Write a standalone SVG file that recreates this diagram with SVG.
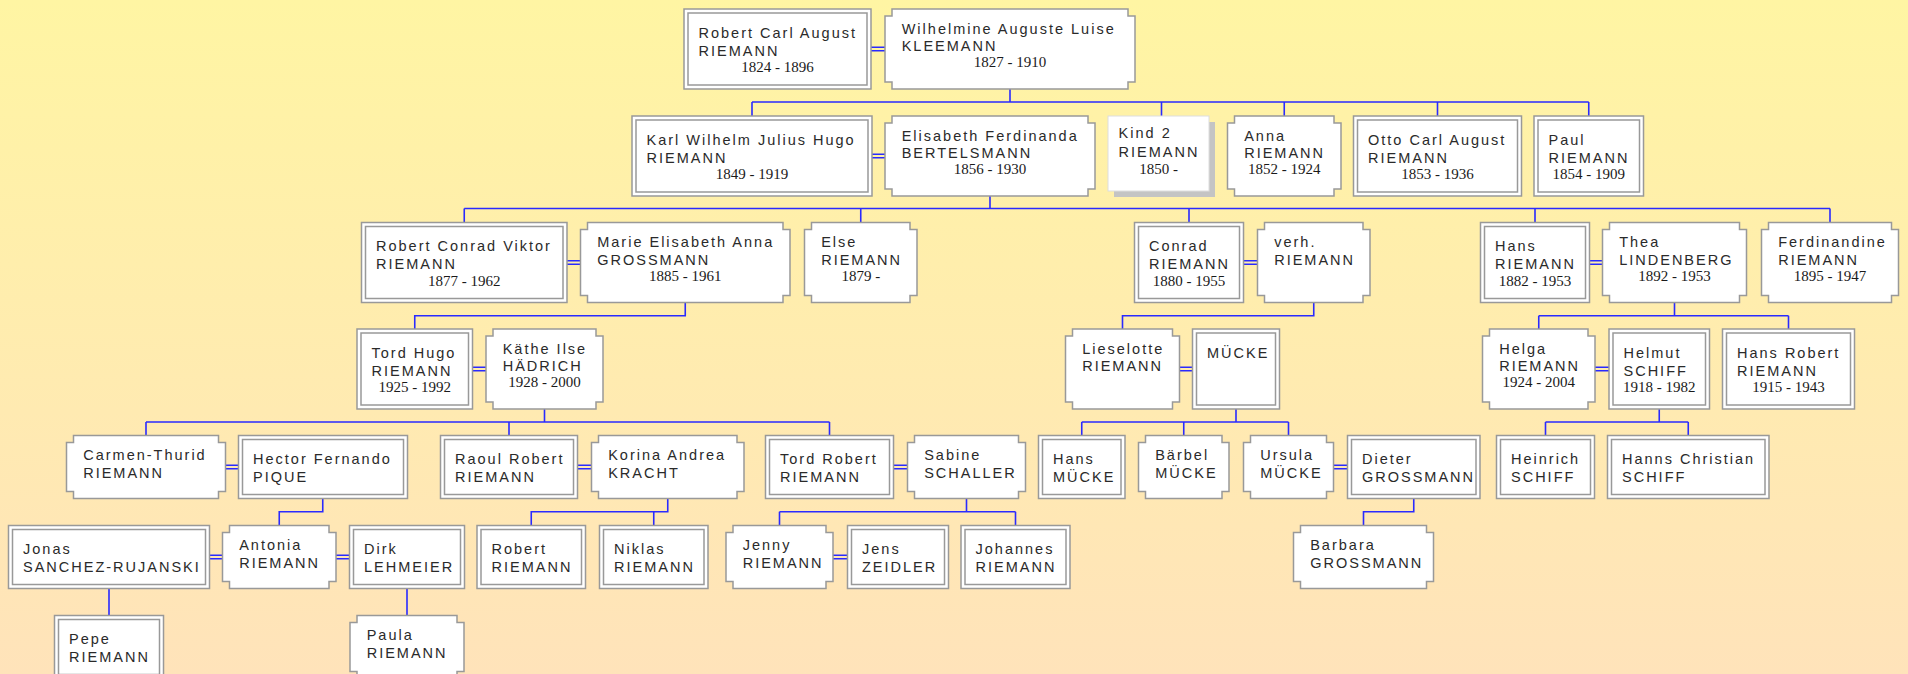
<svg xmlns="http://www.w3.org/2000/svg" width="1908" height="674" viewBox="0 0 1908 674">
<defs>
<linearGradient id="bg" x1="0" y1="0" x2="0" y2="1">
<stop offset="0" stop-color="#FFF5A3"/>
<stop offset="1" stop-color="#FFE3BA"/>
</linearGradient>
</defs>
<style>
.m rect{fill:#fff;stroke:#999;stroke-width:1.5}
.m rect.in{fill:none}
.f path{fill:#fff;stroke:#999;stroke-width:1.5}
.u rect{fill:#fff;stroke:#ddd;stroke-width:1}
.u rect.sh{fill:#c4c4c4;stroke:none}
.n{font-family:"Liberation Sans",Arial,sans-serif;font-size:14.5px;letter-spacing:2px;fill:#2a2a2a}
.d{font-family:"Liberation Serif","Times New Roman",serif;font-size:15px;fill:#1a1a1a;text-anchor:middle}
#connectors path{fill:none;stroke:#2a2aff;stroke-width:1.6}
</style>
<rect width="1908" height="674" fill="url(#bg)"/>
<g id="connectors">
<path d="M871,47.25H885M871,50.75H885"/>
<path d="M872,154.25H885M872,157.75H885"/>
<path d="M567,260.75H580.5M567,264.25H580.5"/>
<path d="M1243.5,260.75H1257.5M1243.5,264.25H1257.5"/>
<path d="M1589.5,260.75H1602.5M1589.5,264.25H1602.5"/>
<path d="M472.5,367.25H486M472.5,370.75H486"/>
<path d="M1179.5,367.25H1192.5M1179.5,370.75H1192.5"/>
<path d="M1595,367.25H1609M1595,370.75H1609"/>
<path d="M225.5,465.25H238.5M225.5,468.75H238.5"/>
<path d="M577.5,465.25H591.5M577.5,468.75H591.5"/>
<path d="M893.5,465.25H907.5M893.5,468.75H907.5"/>
<path d="M1333.5,465.25H1347.5M1333.5,468.75H1347.5"/>
<path d="M209.5,555.25H222.5M209.5,558.75H222.5"/>
<path d="M336,555.25H349.5M336,558.75H349.5"/>
<path d="M833,555.25H847.5M833,558.75H847.5"/>
<path d="M1010,89V102M752,102H1588.75M752,102V116M1161.5,102V116M1284.25,102V116M1437.5,102V116M1588.75,102V116"/>
<path d="M990,196V208.5M464.25,208.5H1830M464.25,208.5V222.5M860.75,208.5V222.5M1189,208.5V222.5M1535,208.5V222.5M1830,208.5V222.5"/>
<path d="M685.25,302.5V315.7H414.75V329M1313.75,302.5V315.7H1122.5V329M1674.5,302.5V315.7M1538.75,315.7H1788.5M1538.75,315.7V329M1788.5,315.7V329"/>
<path d="M544.5,409V422M146,422H829.5M146,422V435.5M509,422V435.5M829.5,422V435.5"/>
<path d="M1236,409V422M1081.75,422H1288.5M1081.75,422V435.5M1183.75,422V435.5M1288.5,422V435.5"/>
<path d="M1659.25,409V422M1545.5,422H1688.25M1545.5,422V435.5M1688.25,422V435.5"/>
<path d="M322.75,498.5V511.7H279.25V525.5M667.75,498.5V511.7H531.25V525.5M653.75,511.7V525.5M966.5,498.5V511.7M779.5,511.7H1015.5M779.5,511.7V525.5M1015.5,511.7V525.5M1413.75,498.5V511.7H1363.5V525.5"/>
<path d="M109,588.5V615.5M407,588.5V615.5"/>
</g>

<g id="robert-carl-august" class="m"><rect x="684" y="9" width="187" height="80"/><rect class="in" x="688" y="13" width="179" height="72"/><text class="n" x="698.5" y="37.7">Robert Carl August</text><text class="n" x="698.5" y="55.5">RIEMANN</text><text class="d" x="777.5" y="72">1824 - 1896</text></g>
<g id="wilhelmine" class="f"><path d="M892,9H1128V16H1135V82H1128V89H892V82H885V16H892Z"/><text class="n" x="901.7" y="33.5">Wilhelmine Auguste Luise</text><text class="n" x="901.7" y="51.3">KLEEMANN</text><text class="d" x="1010" y="67.3">1827 - 1910</text></g>

<g id="karl" class="m"><rect x="632" y="116" width="240" height="80"/><rect class="in" x="636" y="120" width="232" height="72"/><text class="n" x="646.5" y="144.7">Karl Wilhelm Julius Hugo</text><text class="n" x="646.5" y="162.5">RIEMANN</text><text class="d" x="752" y="179">1849 - 1919</text></g>
<g id="elisabeth" class="f"><path d="M892,116H1088V123H1095V189H1088V196H892V189H885V123H892Z"/><text class="n" x="901.7" y="140.5">Elisabeth Ferdinanda</text><text class="n" x="901.7" y="158.3">BERTELSMANN</text><text class="d" x="990" y="174.3">1856 - 1930</text></g>
<g id="kind2" class="u"><rect class="sh" x="1114" y="122" width="101" height="75"/><rect x="1108" y="116" width="101" height="75"/><text class="n" x="1118.6" y="137.7">Kind 2</text><text class="n" x="1118.6" y="156.7">RIEMANN</text><text class="d" x="1158.5" y="174">1850 -</text></g>
<g id="anna" class="f"><path d="M1234.5,116H1334V123H1341V189H1334V196H1234.5V189H1227.5V123H1234.5Z"/><text class="n" x="1244.2" y="140.5">Anna</text><text class="n" x="1244.2" y="158.3">RIEMANN</text><text class="d" x="1284.25" y="174.3">1852 - 1924</text></g>
<g id="otto" class="m"><rect x="1353.5" y="116" width="168" height="80"/><rect class="in" x="1357.5" y="120" width="160" height="72"/><text class="n" x="1368" y="144.7">Otto Carl August</text><text class="n" x="1368" y="162.5">RIEMANN</text><text class="d" x="1437.5" y="179">1853 - 1936</text></g>
<g id="paul" class="m"><rect x="1534" y="116" width="109.5" height="80"/><rect class="in" x="1538" y="120" width="101.5" height="72"/><text class="n" x="1548.5" y="144.7">Paul</text><text class="n" x="1548.5" y="162.5">RIEMANN</text><text class="d" x="1588.75" y="179">1854 - 1909</text></g>

<g id="robert-conrad" class="m"><rect x="361.5" y="222.5" width="205.5" height="80"/><rect class="in" x="365.5" y="226.5" width="197.5" height="72"/><text class="n" x="376" y="251.2">Robert Conrad Viktor</text><text class="n" x="376" y="269">RIEMANN</text><text class="d" x="464.25" y="285.5">1877 - 1962</text></g>
<g id="marie" class="f"><path d="M587.5,222.5H783V229.5H790V295.5H783V302.5H587.5V295.5H580.5V229.5H587.5Z"/><text class="n" x="597.2" y="247">Marie Elisabeth Anna</text><text class="n" x="597.2" y="264.8">GROSSMANN</text><text class="d" x="685.25" y="280.8">1885 - 1961</text></g>
<g id="else" class="f"><path d="M811.5,222.5H910V229.5H917V295.5H910V302.5H811.5V295.5H804.5V229.5H811.5Z"/><text class="n" x="821.2" y="247">Else</text><text class="n" x="821.2" y="264.8">RIEMANN</text><text class="d" x="860.75" y="280.8">1879 -</text></g>
<g id="conrad" class="m"><rect x="1134.5" y="222.5" width="109" height="80"/><rect class="in" x="1138.5" y="226.5" width="101" height="72"/><text class="n" x="1149" y="251.2">Conrad</text><text class="n" x="1149" y="269">RIEMANN</text><text class="d" x="1189" y="285.5">1880 - 1955</text></g>
<g id="verh" class="f"><path d="M1264.5,222.5H1363V229.5H1370V295.5H1363V302.5H1264.5V295.5H1257.5V229.5H1264.5Z"/><text class="n" x="1274.2" y="247">verh.</text><text class="n" x="1274.2" y="264.8">RIEMANN</text></g>
<g id="hans" class="m"><rect x="1480.5" y="222.5" width="109" height="80"/><rect class="in" x="1484.5" y="226.5" width="101" height="72"/><text class="n" x="1495" y="251.2">Hans</text><text class="n" x="1495" y="269">RIEMANN</text><text class="d" x="1535" y="285.5">1882 - 1953</text></g>
<g id="thea" class="f"><path d="M1609.5,222.5H1739.5V229.5H1746.5V295.5H1739.5V302.5H1609.5V295.5H1602.5V229.5H1609.5Z"/><text class="n" x="1619.2" y="247">Thea</text><text class="n" x="1619.2" y="264.8">LINDENBERG</text><text class="d" x="1674.5" y="280.8">1892 - 1953</text></g>
<g id="ferdinandine" class="f"><path d="M1768.5,222.5H1891.5V229.5H1898.5V295.5H1891.5V302.5H1768.5V295.5H1761.5V229.5H1768.5Z"/><text class="n" x="1778.2" y="247">Ferdinandine</text><text class="n" x="1778.2" y="264.8">RIEMANN</text><text class="d" x="1830" y="280.8">1895 - 1947</text></g>

<g id="tord-hugo" class="m"><rect x="357" y="329" width="115.5" height="80"/><rect class="in" x="361" y="333" width="107.5" height="72"/><text class="n" x="371.5" y="357.7">Tord Hugo</text><text class="n" x="371.5" y="375.5">RIEMANN</text><text class="d" x="414.75" y="392">1925 - 1992</text></g>
<g id="kaethe" class="f"><path d="M493,329H596V336H603V402H596V409H493V402H486V336H493Z"/><text class="n" x="502.7" y="353.5">Käthe Ilse</text><text class="n" x="502.7" y="371.3">HÄDRICH</text><text class="d" x="544.5" y="387.3">1928 - 2000</text></g>
<g id="lieselotte" class="f"><path d="M1072.5,329H1172.5V336H1179.5V402H1172.5V409H1072.5V402H1065.5V336H1072.5Z"/><text class="n" x="1082.2" y="353.5">Lieselotte</text><text class="n" x="1082.2" y="371.3">RIEMANN</text></g>
<g id="muecke" class="m"><rect x="1192.5" y="329" width="87" height="80"/><rect class="in" x="1196.5" y="333" width="79" height="72"/><text class="n" x="1207" y="357.7">MÜCKE</text></g>
<g id="helga" class="f"><path d="M1489.5,329H1588V336H1595V402H1588V409H1489.5V402H1482.5V336H1489.5Z"/><text class="n" x="1499.2" y="353.5">Helga</text><text class="n" x="1499.2" y="371.3">RIEMANN</text><text class="d" x="1538.75" y="387.3">1924 - 2004</text></g>
<g id="helmut" class="m"><rect x="1609" y="329" width="100.5" height="80"/><rect class="in" x="1613" y="333" width="92.5" height="72"/><text class="n" x="1623.5" y="357.7">Helmut</text><text class="n" x="1623.5" y="375.5">SCHIFF</text><text class="d" x="1659.25" y="392">1918 - 1982</text></g>
<g id="hans-robert" class="m"><rect x="1722.5" y="329" width="132" height="80"/><rect class="in" x="1726.5" y="333" width="124" height="72"/><text class="n" x="1737" y="357.7">Hans Robert</text><text class="n" x="1737" y="375.5">RIEMANN</text><text class="d" x="1788.5" y="392">1915 - 1943</text></g>

<g id="carmen" class="f"><path d="M73.5,435.5H218.5V442.5H225.5V491.5H218.5V498.5H73.5V491.5H66.5V442.5H73.5Z"/><text class="n" x="83.2" y="460">Carmen-Thurid</text><text class="n" x="83.2" y="477.8">RIEMANN</text></g>
<g id="hector" class="m"><rect x="238.5" y="435.5" width="169" height="63"/><rect class="in" x="242.5" y="439.5" width="161" height="55"/><text class="n" x="253" y="464.2">Hector Fernando</text><text class="n" x="253" y="482">PIQUE</text></g>
<g id="raoul" class="m"><rect x="440.5" y="435.5" width="137" height="63"/><rect class="in" x="444.5" y="439.5" width="129" height="55"/><text class="n" x="455" y="464.2">Raoul Robert</text><text class="n" x="455" y="482">RIEMANN</text></g>
<g id="korina" class="f"><path d="M598.5,435.5H737V442.5H744V491.5H737V498.5H598.5V491.5H591.5V442.5H598.5Z"/><text class="n" x="608.2" y="460">Korina Andrea</text><text class="n" x="608.2" y="477.8">KRACHT</text></g>
<g id="tord-robert" class="m"><rect x="765.5" y="435.5" width="128" height="63"/><rect class="in" x="769.5" y="439.5" width="120" height="55"/><text class="n" x="780" y="464.2">Tord Robert</text><text class="n" x="780" y="482">RIEMANN</text></g>
<g id="sabine" class="f"><path d="M914.5,435.5H1018.5V442.5H1025.5V491.5H1018.5V498.5H914.5V491.5H907.5V442.5H914.5Z"/><text class="n" x="924.2" y="460">Sabine</text><text class="n" x="924.2" y="477.8">SCHALLER</text></g>
<g id="hans-muecke" class="m"><rect x="1038.5" y="435.5" width="86.5" height="63"/><rect class="in" x="1042.5" y="439.5" width="78.5" height="55"/><text class="n" x="1053" y="464.2">Hans</text><text class="n" x="1053" y="482">MÜCKE</text></g>
<g id="baerbel" class="f"><path d="M1145.5,435.5H1222V442.5H1229V491.5H1222V498.5H1145.5V491.5H1138.5V442.5H1145.5Z"/><text class="n" x="1155.2" y="460">Bärbel</text><text class="n" x="1155.2" y="477.8">MÜCKE</text></g>
<g id="ursula" class="f"><path d="M1250.5,435.5H1326.5V442.5H1333.5V491.5H1326.5V498.5H1250.5V491.5H1243.5V442.5H1250.5Z"/><text class="n" x="1260.2" y="460">Ursula</text><text class="n" x="1260.2" y="477.8">MÜCKE</text></g>
<g id="dieter" class="m"><rect x="1347.5" y="435.5" width="132.5" height="63"/><rect class="in" x="1351.5" y="439.5" width="124.5" height="55"/><text class="n" x="1362" y="464.2">Dieter</text><text class="n" x="1362" y="482">GROSSMANN</text></g>
<g id="heinrich" class="m"><rect x="1496.5" y="435.5" width="98" height="63"/><rect class="in" x="1500.5" y="439.5" width="90" height="55"/><text class="n" x="1511" y="464.2">Heinrich</text><text class="n" x="1511" y="482">SCHIFF</text></g>
<g id="hanns-christian" class="m"><rect x="1607.5" y="435.5" width="161.5" height="63"/><rect class="in" x="1611.5" y="439.5" width="153.5" height="55"/><text class="n" x="1622" y="464.2">Hanns Christian</text><text class="n" x="1622" y="482">SCHIFF</text></g>

<g id="jonas" class="m"><rect x="8.5" y="525.5" width="201" height="63"/><rect class="in" x="12.5" y="529.5" width="193" height="55"/><text class="n" x="23" y="554.2">Jonas</text><text class="n" x="23" y="572">SANCHEZ-RUJANSKI</text></g>
<g id="antonia" class="f"><path d="M229.5,525.5H329V532.5H336V581.5H329V588.5H229.5V581.5H222.5V532.5H229.5Z"/><text class="n" x="239.2" y="550">Antonia</text><text class="n" x="239.2" y="567.8">RIEMANN</text></g>
<g id="dirk" class="m"><rect x="349.5" y="525.5" width="115" height="63"/><rect class="in" x="353.5" y="529.5" width="107" height="55"/><text class="n" x="364" y="554.2">Dirk</text><text class="n" x="364" y="572">LEHMEIER</text></g>
<g id="robert" class="m"><rect x="477" y="525.5" width="108.5" height="63"/><rect class="in" x="481" y="529.5" width="100.5" height="55"/><text class="n" x="491.5" y="554.2">Robert</text><text class="n" x="491.5" y="572">RIEMANN</text></g>
<g id="niklas" class="m"><rect x="599.5" y="525.5" width="108.5" height="63"/><rect class="in" x="603.5" y="529.5" width="100.5" height="55"/><text class="n" x="614" y="554.2">Niklas</text><text class="n" x="614" y="572">RIEMANN</text></g>
<g id="jenny" class="f"><path d="M733,525.5H826V532.5H833V581.5H826V588.5H733V581.5H726V532.5H733Z"/><text class="n" x="742.7" y="550">Jenny</text><text class="n" x="742.7" y="567.8">RIEMANN</text></g>
<g id="jens" class="m"><rect x="847.5" y="525.5" width="101" height="63"/><rect class="in" x="851.5" y="529.5" width="93" height="55"/><text class="n" x="862" y="554.2">Jens</text><text class="n" x="862" y="572">ZEIDLER</text></g>
<g id="johannes" class="m"><rect x="961" y="525.5" width="109" height="63"/><rect class="in" x="965" y="529.5" width="101" height="55"/><text class="n" x="975.5" y="554.2">Johannes</text><text class="n" x="975.5" y="572">RIEMANN</text></g>
<g id="barbara" class="f"><path d="M1300.5,525.5H1426.5V532.5H1433.5V581.5H1426.5V588.5H1300.5V581.5H1293.5V532.5H1300.5Z"/><text class="n" x="1310.2" y="550">Barbara</text><text class="n" x="1310.2" y="567.8">GROSSMANN</text></g>

<g id="pepe" class="m"><rect x="54.5" y="615.5" width="109" height="63"/><rect class="in" x="58.5" y="619.5" width="101" height="55"/><text class="n" x="69" y="644.2">Pepe</text><text class="n" x="69" y="662">RIEMANN</text></g>
<g id="paula" class="f"><path d="M357,615.5H457V622.5H464V671.5H457V678.5H357V671.5H350V622.5H357Z"/><text class="n" x="366.7" y="640">Paula</text><text class="n" x="366.7" y="657.8">RIEMANN</text></g>
</svg>
